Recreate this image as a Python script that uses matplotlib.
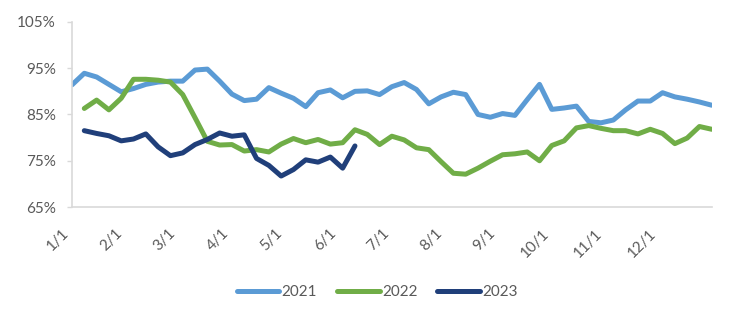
import matplotlib
matplotlib.use("Agg")
import matplotlib.pyplot as plt
import matplotlib.transforms as mtransforms
from matplotlib.ticker import FuncFormatter
import numpy as np

plt.rcParams['font.family'] = ['Lato', 'DejaVu Sans']

months = ['1/1', '2/1', '3/1', '4/1', '5/1', '6/1', '7/1', '8/1', '9/1', '10/1', '11/1', '12/1']

v2021 = [91.4, 93.9, 93.1, 91.5, 89.9, 90.6, 91.5, 92.0, 92.2, 92.2, 94.6, 94.8, 92.2,
         89.4, 88.0, 88.3, 90.8, 89.6, 88.5, 86.7, 89.7, 90.3, 88.6, 90.0, 90.1, 89.3,
         91.0, 91.9, 90.4, 87.3, 88.8, 89.8, 89.3, 85.0, 84.4, 85.2, 84.8, 88.2, 91.5,
         86.1, 86.4, 86.8, 83.5, 83.2, 83.8, 86.0, 87.9, 87.9, 89.7, 88.8, 88.3, 87.7, 87.0]

v2022 = [86.3, 88.1, 86.0, 88.5, 92.6, 92.6, 92.4, 92.0, 89.3, 84.3, 79.2, 78.4, 78.5,
         77.1, 77.4, 76.9, 78.6, 79.8, 78.9, 79.6, 78.6, 78.9, 81.7, 80.7, 78.5, 80.3,
         79.5, 77.8, 77.4, 74.8, 72.3, 72.1, 73.4, 74.9, 76.3, 76.5, 76.9, 75.0, 78.3,
         79.3, 82.1, 82.6, 82.0, 81.5, 81.5, 80.8, 81.8, 80.9, 78.7, 79.9, 82.4, 81.8]

v2023 = [81.5, 80.9, 80.4, 79.3, 79.7, 80.8, 78.0, 76.1, 76.7, 78.5, 79.6, 81.0, 80.3,
         80.6, 75.5, 74.0, 71.7, 73.1, 75.2, 74.7, 75.8, 73.4, 78.2]

series = [('2021', v2021, 0, '#5B9BD5'),
          ('2022', v2022, 1, '#70AD47'),
          ('2023', v2023, 1, '#203F7A')]

fig = plt.figure(figsize=(7.5, 3.22), dpi=100)
ax = fig.add_axes([0.096, 0.357, 0.853, 0.575])

for name, vals, start, color in series:
    x = np.arange(start, start + len(vals))
    ax.plot(x, vals, color=color, lw=3.6, label=name, solid_joinstyle='round',
            solid_capstyle='round')

ax.set_xlim(0, 52)
ax.set_ylim(65, 105)
ax.set_yticks([65, 75, 85, 95, 105])
ax.yaxis.set_major_formatter(FuncFormatter(lambda v, p: f"{v:.0f}%"))

tick_pos = [m * 52 / 12 for m in range(12)]
ax.set_xticks(tick_pos)
ax.set_xticklabels(months, rotation=45, ha='right', va='top')
offset = mtransforms.ScaledTranslation(9 / 100, 0, fig.dpi_scale_trans)
for lab in ax.get_xticklabels():
    lab.set_transform(lab.get_transform() + offset)

for s in ['top', 'right']:
    ax.spines[s].set_visible(False)
for s in ['left', 'bottom']:
    ax.spines[s].set_color('#D9D9D9')
    ax.spines[s].set_linewidth(1.2)

ax.tick_params(axis='y', length=3.6, width=1.0, color='#D9D9D9', pad=8,
               labelsize=11, labelcolor='#595959')
ax.tick_params(axis='x', length=0, pad=14, labelsize=11, labelcolor='#595959')

leg = fig.legend(loc='center', bbox_to_anchor=(0.503, 0.093), ncol=3, frameon=False,
                 fontsize=11, handlelength=2.8, handletextpad=0.15, columnspacing=1.3)
for t in leg.get_texts():
    t.set_color('#595959')

fig.savefig('out.png', dpi=100)
